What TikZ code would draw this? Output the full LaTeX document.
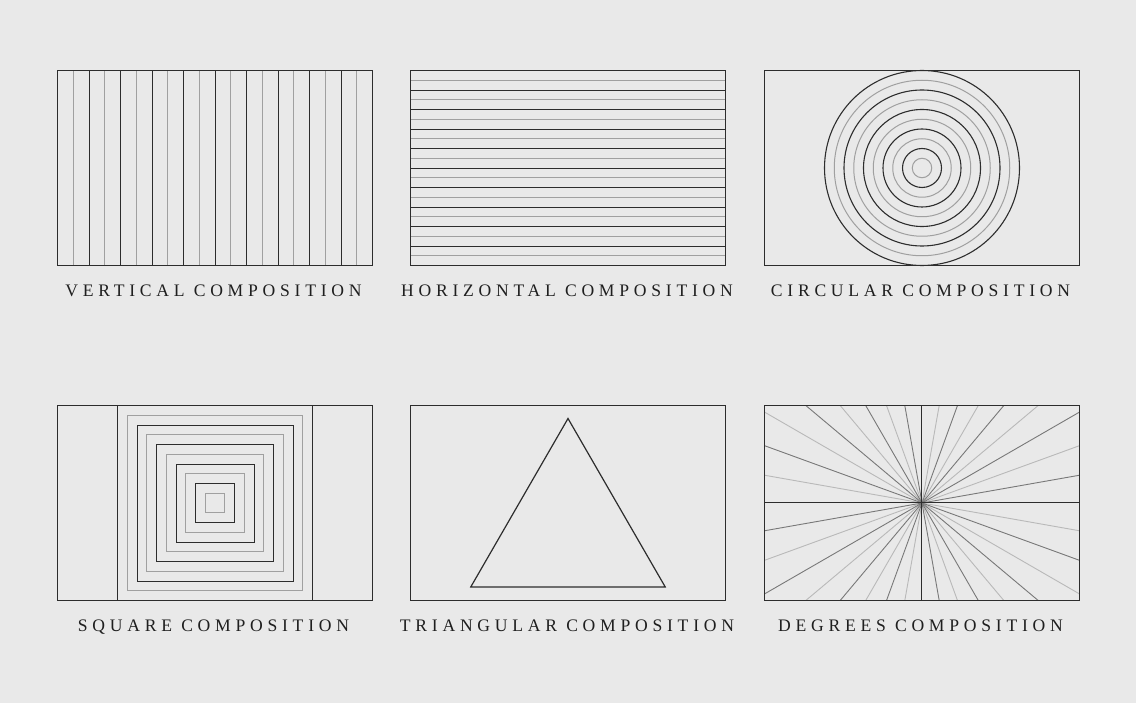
\documentclass[tikz,border=0pt]{standalone}
\usepackage{fontspec}
\newfontfamily\capfont[LetterSpace=27]{Liberation Serif}
\usepackage{xcolor}
\definecolor{PaperGray}{RGB}{233,233,233}
\definecolor{InkDark}{RGB}{45,45,45}
\definecolor{InkMid}{RGB}{120,120,120}
\definecolor{InkLight}{RGB}{160,160,160}
\definecolor{InkRay}{RGB}{185,185,185}
\tikzset{
  heavy/.style={draw=InkDark,line width=1.1pt},
  faint/.style={draw=InkLight,line width=1pt},
  raymid/.style={draw=InkMid,line width=0.9pt},
  raylight/.style={draw=InkRay,line width=0.9pt},
  caption/.style={font=\capfont\fontsize{17.6}{20}\selectfont,text=black!88,inner sep=0pt,anchor=base}
}

\begin{document}
\begin{tikzpicture}[x=1pt,y=-1pt]
          \fill[PaperGray] (0,0) rectangle (1136,703);
          \useasboundingbox (0,0) rectangle (1136,703);
          \draw[faint] \foreach \i in {1,3,...,19} {({round(57+15.75*\i)+0.5},70.5) -- ++(0,195)};
          \draw[heavy] \foreach \i in {2,4,...,18} {({round(57+15.75*\i)+0.5},70.5) -- ++(0,195)};
          \draw[heavy] (57.5,70.5) rectangle ++(315,195);
          \node[caption] (vertlabel) at (213.5,297) {VERTICAL COMPOSITION};
          \draw[faint] \foreach \i in {1,3,...,19} {(410.5,{round(70+9.75*\i)+0.5}) -- ++(315,0)};
          \draw[heavy] \foreach \i in {2,4,...,18} {(410.5,{round(70+9.75*\i)+0.5}) -- ++(315,0)};
          \draw[heavy] (410.5,70.5) rectangle ++(315,195);
          \node[caption] (horzlabel) at (567,297) {HORIZONTAL COMPOSITION};
          \foreach \k in {1,3,...,9} \draw[faint] (922,168) circle (9.75pt*\k);
          \foreach \k in {2,4,...,10} \draw[heavy] (922,168) circle (9.75pt*\k);
          \draw[heavy] (764.5,70.5) rectangle ++(315,195);
          \node[caption] (circlabel) at (920.5,297) {CIRCULAR COMPOSITION};
          \foreach \k in {1,3,...,9} \draw[faint] ({round(214.5-9.75*\k)+0.5},{round(502.5-9.75*\k)+0.5}) rectangle ({round(214.5+9.75*\k)+0.5},{round(502.5+9.75*\k)+0.5});
          \foreach \k in {2,4,...,8} \draw[heavy] ({round(214.5-9.75*\k)+0.5},{round(502.5-9.75*\k)+0.5}) rectangle ({round(214.5+9.75*\k)+0.5},{round(502.5+9.75*\k)+0.5});
          \draw[heavy] (117.5,405.5) -- (117.5,600.5) (312.5,405.5) -- (312.5,600.5);
          \draw[heavy] (57.5,405.5) rectangle ++(315,195);
          \node[caption] (squarelabel) at (213.5,631) {SQUARE COMPOSITION};
          \draw[heavy,line width=1.2pt,line join=miter] (568,418.5) -- (665.2,586.9) -- (470.8,586.9) -- cycle;
          \draw[heavy] (410.5,405.5) rectangle ++(315,195);
          \node[caption] (trilabel) at (567,631) {TRIANGULAR COMPOSITION};
          \begin{scope}
            \clip (764.5,405.5) rectangle ++(315,195);
            \foreach \a in {20,40,60,80,110,130,150,170} \draw[raylight] (922,503) ++(\a:-400pt) -- ++(\a:800pt);
            \foreach \a in {10,30,50,70,100,120,140,160} \draw[raymid] (922,503) ++(\a:-400pt) -- ++(\a:800pt);
            \draw[heavy] (764.5,502.5) -- (1079.5,502.5) (921.5,405.5) -- (921.5,600.5);
          \end{scope}
          \draw[heavy] (764.5,405.5) rectangle ++(315,195);
          \node[caption] (deglabel) at (920.5,631) {DEGREES COMPOSITION};
        \end{tikzpicture}
\end{document}
